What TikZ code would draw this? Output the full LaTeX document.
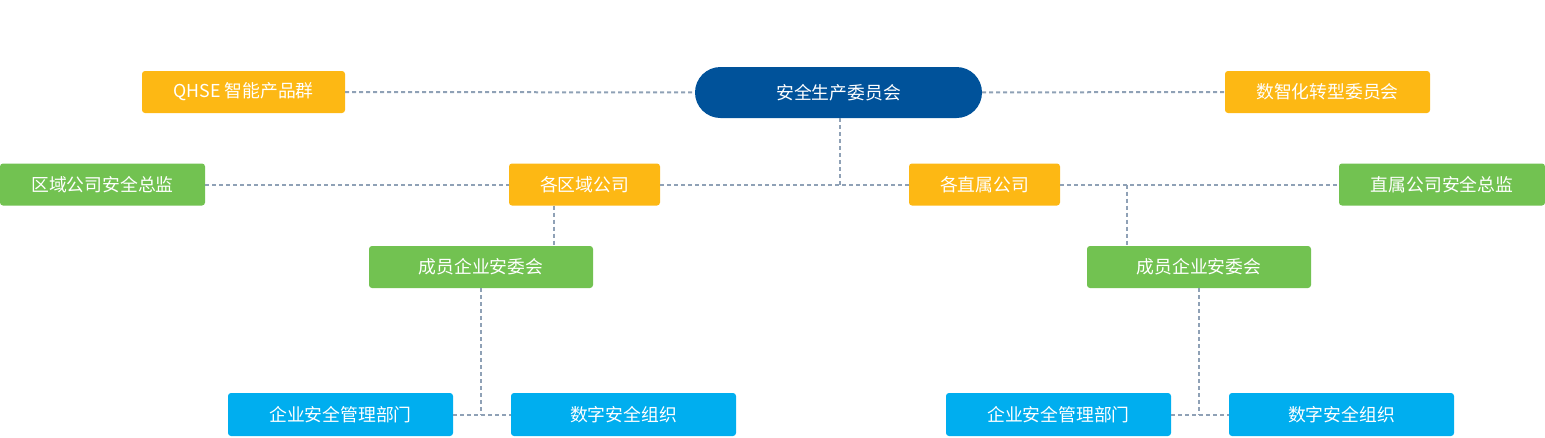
\documentclass[tikz,border=0pt]{standalone}
\usepackage{fontspec}
\newfontfamily\cjk{Noto Sans CJK SC}
\usepackage{tikz}
\usetikzlibrary{positioning}
\definecolor{navy}{HTML}{00529A}
\definecolor{amber}{HTML}{FDB814}
\definecolor{leaf}{HTML}{72C251}
\definecolor{sky}{HTML}{00AEEF}
\definecolor{linkgray}{HTML}{8FA1B6}

\begin{document}
\begin{tikzpicture}[x=1pt, y=-1pt,
    every node/.style={font=\cjk\fontsize{17.8}{20}\selectfont, text=white, inner sep=0pt},
    box/.style={rectangle, rounded corners=3pt, minimum height=42pt},
    head/.style={rectangle, rounded corners=25.5pt, fill=navy, minimum width=287pt, minimum height=51pt},
    gold/.style={box, fill=amber},
    green/.style={box, fill=leaf},
    blue/.style={box, fill=sky, minimum width=225pt, minimum height=43pt},
    link/.style={draw=linkgray, line width=2pt, dash pattern=on 4pt off 3pt}]
            \useasboundingbox (0,0) rectangle (1545,437);

            \node[head] at (838.5, 92.5)  (top) {安全生产委员会};
            \node[gold, minimum width=203pt] at (243.5, 92)  (qhse) {QHSE 智能产品群};
            \node[gold, minimum width=205pt] at (1327.5, 92) (szh) {数智化转型委员会};

            \node[green, minimum width=205pt] at (102.5, 184.5) (qzj) {区域公司安全总监};
            \node[gold, minimum width=151pt]  at (584.5, 184.5) (qy) {各区域公司};
            \node[gold, minimum width=151pt]  at (984.5, 184.5) (zs) {各直属公司};
            \node[green, minimum width=206pt] at (1442, 184.5)  (zzj) {直属公司安全总监};

            \node[green, minimum width=224pt] at (481, 267)  (cy1) {成员企业安委会};
            \node[green, minimum width=224pt] at (1199, 267) (cy2) {成员企业安委会};

            \node[blue] at (340.5, 414.5)  (gl1) {企业安全管理部门};
            \node[blue] at (623.5, 414.5)  (sz1) {数字安全组织};
            \node[blue] at (1058.5, 414.5) (gl2) {企业安全管理部门};
            \node[blue] at (1341.5, 414.5) (sz2) {数字安全组织};

            \coordinate (j0) at (840, 118);
            \coordinate (j1) at (554, 205.5);
            \coordinate (j2) at (1127, 184.5);

            % top level
            \draw[link] (qhse) -- (top);
            \draw[link] (top) -- (szh);
            \draw[link] (j0) -- (j0 |- qy.east);
            \draw[link] (qy) -- (zs);

            % left branch
            \draw[link] (qzj) -- (qy);
            \draw[link] (j1) -- (j1 |- cy1.north);
            \draw[link] (cy1) -- (cy1 |- gl1.east);
            \draw[link] (gl1) -- (sz1);

            % right branch
            \draw[link] (zs) -- (zzj);
            \draw[link] (j2) -- (j2 |- cy2.north);
            \draw[link] (cy2) -- (cy2 |- gl2.east);
            \draw[link] (gl2) -- (sz2);
        \end{tikzpicture}
\end{document}
